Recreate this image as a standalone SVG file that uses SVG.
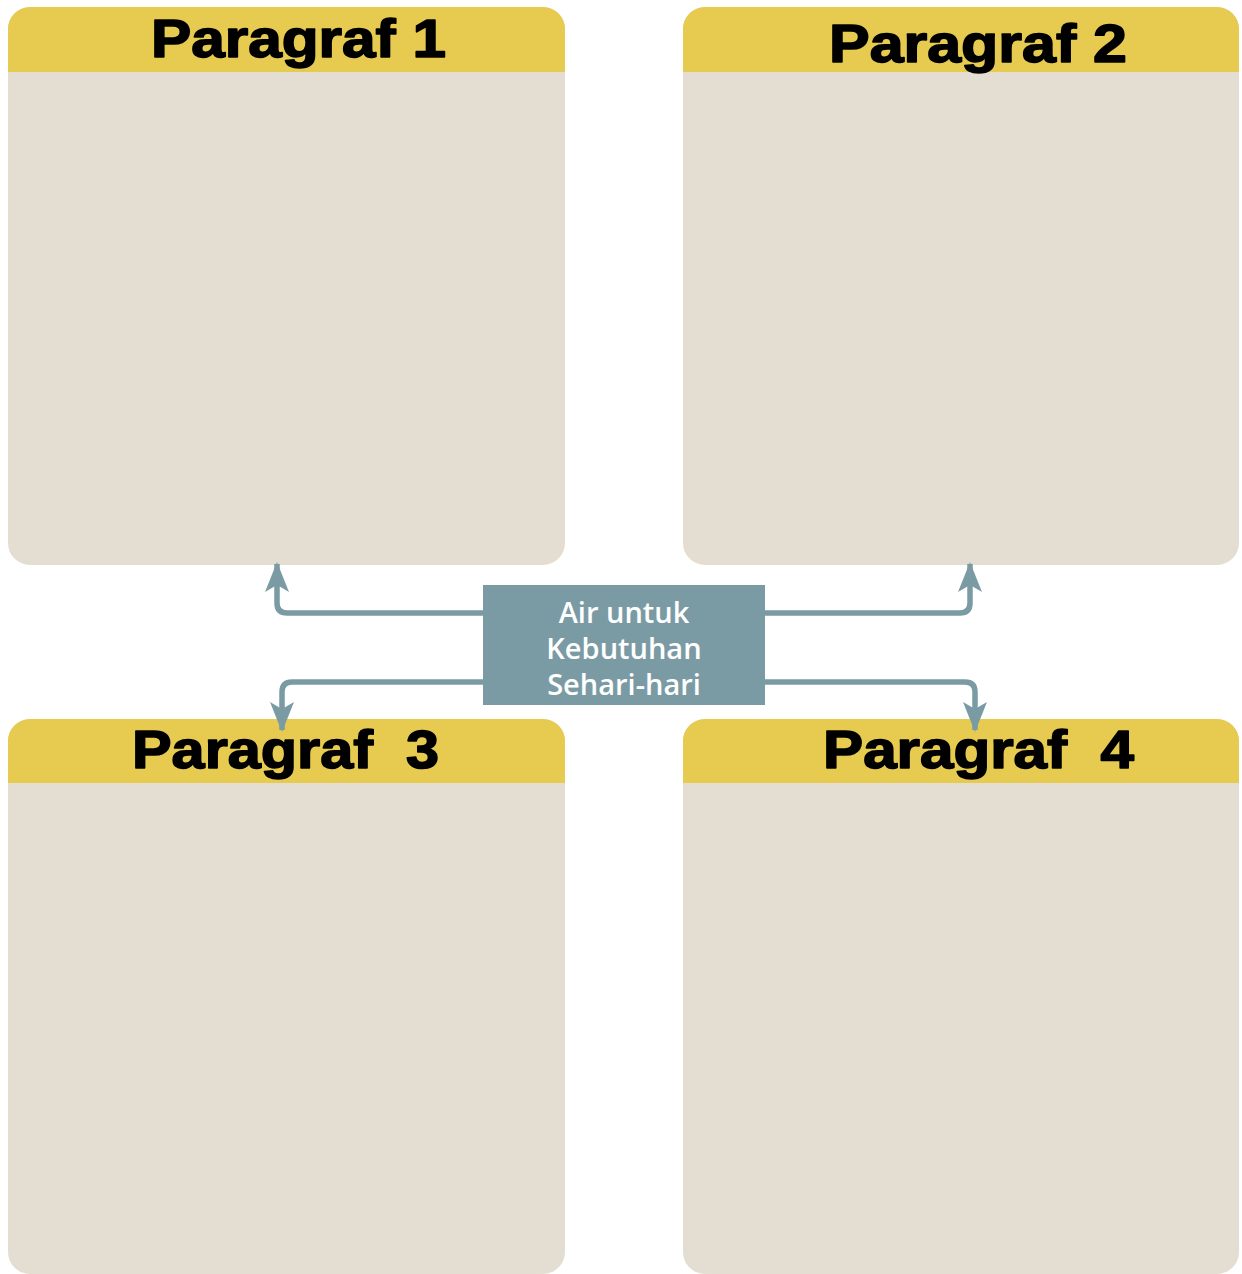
<svg xmlns="http://www.w3.org/2000/svg" width="1242" height="1274" viewBox="0 0 1242 1274">
<defs>
<style>
.body{fill:#e4ddd1}
.head{fill:#e6cb50}
.title{font-family:"Liberation Sans",Arial,sans-serif;font-weight:bold;font-size:54px;fill:#000;stroke:#000;stroke-width:1.6px;stroke-linejoin:round}
.conn{fill:none;stroke:#7b9ba4;stroke-width:5.5}
.ctext{font-family:"Open Sans","Noto Sans",sans-serif;font-weight:600;font-size:29px;fill:#fff;text-anchor:middle}
</style>
<clipPath id="c1"><rect x="8" y="7" width="557" height="558" rx="22"/></clipPath>
<clipPath id="c2"><rect x="683" y="7" width="556" height="558" rx="22"/></clipPath>
<clipPath id="c3"><rect x="8" y="719" width="557" height="555" rx="22"/></clipPath>
<clipPath id="c4"><rect x="683" y="719" width="556" height="555" rx="22"/></clipPath>
<marker id="ah" viewBox="0 0 30 24" refX="28" refY="12" markerWidth="30" markerHeight="24" markerUnits="userSpaceOnUse" orient="auto">
<path d="M0,0 L30,12 L0,24 L7,12 Z" fill="#7b9ba4"/>
</marker>
</defs>
<g id="panel1" clip-path="url(#c1)">
<rect class="body" x="8" y="7" width="557" height="558"/>
<rect class="head" x="8" y="7" width="557" height="65"/>
<text class="title" x="151" y="57" textLength="295" lengthAdjust="spacingAndGlyphs">Paragraf 1</text>
</g>
<g id="panel2" clip-path="url(#c2)">
<rect class="body" x="683" y="7" width="556" height="558"/>
<rect class="head" x="683" y="7" width="556" height="65"/>
<text class="title" x="829" y="62" textLength="298" lengthAdjust="spacingAndGlyphs">Paragraf 2</text>
</g>
<g id="panel3" clip-path="url(#c3)">
<rect class="body" x="8" y="719" width="557" height="555"/>
<rect class="head" x="8" y="719" width="557" height="64"/>
<text class="title" x="132" y="768" textLength="307" lengthAdjust="spacingAndGlyphs" xml:space="preserve">Paragraf  3</text>
</g>
<g id="panel4" clip-path="url(#c4)">
<rect class="body" x="683" y="719" width="556" height="555"/>
<rect class="head" x="683" y="719" width="556" height="64"/>
<text class="title" x="823" y="768" textLength="311" lengthAdjust="spacingAndGlyphs" xml:space="preserve">Paragraf  4</text>
</g>
<g id="connectors">
<path class="conn" d="M484,613 H287 Q277,613 277,603 V564" marker-end="url(#ah)"/>
<path class="conn" d="M484,682 H292 Q282,682 282,692 V730" marker-end="url(#ah)"/>
<path class="conn" d="M764,613 H960 Q970,613 970,603 V564" marker-end="url(#ah)"/>
<path class="conn" d="M764,682 H965 Q975,682 975,692 V730" marker-end="url(#ah)"/>
</g>
<g id="center">
<rect x="483" y="585" width="282" height="120" fill="#7b9ba4"/>
<text class="ctext" x="624" y="623">Air untuk</text>
<text class="ctext" x="624" y="659">Kebutuhan</text>
<text class="ctext" x="624" y="695">Sehari-hari</text>
</g>
</svg>
